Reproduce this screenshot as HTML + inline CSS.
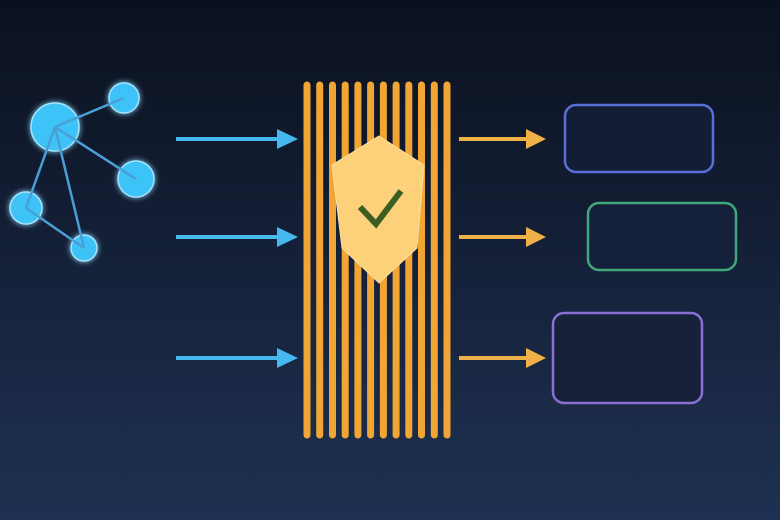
<!DOCTYPE html>
<html><head><style>
html,body{margin:0;padding:0;width:780px;height:520px;overflow:hidden;}
body{background:linear-gradient(#0a111e 0%,#141f36 45%,#1e3152 100%);}
svg{display:block;}
</style></head><body>
<svg width="780" height="520" viewBox="0 0 780 520" xmlns="http://www.w3.org/2000/svg">
<defs>
<filter id="g" x="-50%" y="-50%" width="200%" height="200%"><feGaussianBlur stdDeviation="3" result="b"/><feMerge><feMergeNode in="b"/><feMergeNode in="SourceGraphic"/></feMerge></filter>
</defs>
<g filter="url(#g)" fill="#3ec3f7" stroke="#a8e4fb" stroke-width="1.5">
<circle cx="55" cy="127" r="24"/>
<circle cx="124" cy="98" r="15"/>
<circle cx="136" cy="179" r="18"/>
<circle cx="26" cy="208" r="16"/>
<circle cx="84" cy="248" r="13"/>
</g>
<g stroke="#4a9fd6" stroke-width="2.5" fill="none">
<line x1="55" y1="127" x2="124" y2="98"/>
<line x1="55" y1="127" x2="136" y2="179"/>
<line x1="55" y1="127" x2="26" y2="208"/>
<line x1="55" y1="127" x2="84" y2="248"/>
<line x1="26" y1="208" x2="84" y2="248"/>
</g>
<g fill="#45b8ee" stroke="#45b8ee">
<line x1="176" y1="139" x2="280" y2="139" stroke-width="4"/><polygon points="277,129 298,139 277,149" stroke="none"/>
<line x1="176" y1="237" x2="280" y2="237" stroke-width="4"/><polygon points="277,227 298,237 277,247" stroke="none"/>
<line x1="176" y1="358" x2="280" y2="358" stroke-width="4"/><polygon points="277,348 298,358 277,368" stroke="none"/>
</g>
<g stroke="#f0a535" stroke-width="7" stroke-linecap="round">
<line x1="307" y1="85" x2="307" y2="435"/>
<line x1="319.7" y1="85" x2="319.7" y2="435"/>
<line x1="332.5" y1="85" x2="332.5" y2="435"/>
<line x1="345.2" y1="85" x2="345.2" y2="435"/>
<line x1="357.9" y1="85" x2="357.9" y2="435"/>
<line x1="370.6" y1="85" x2="370.6" y2="435"/>
<line x1="383.4" y1="85" x2="383.4" y2="435"/>
<line x1="396.1" y1="85" x2="396.1" y2="435"/>
<line x1="408.8" y1="85" x2="408.8" y2="435"/>
<line x1="421.5" y1="85" x2="421.5" y2="435"/>
<line x1="434.3" y1="85" x2="434.3" y2="435"/>
<line x1="447" y1="85" x2="447" y2="435"/>
</g>
<polygon points="379,136 424,165 417,248 379,283 342,248 332,165" fill="#fdd07a" stroke="#ffe0a0" stroke-width="1"/>
<polyline points="360,207 376,224 401,191" fill="none" stroke="#3d5e22" stroke-width="6"/>
<g fill="#f0b048" stroke="#f0b048">
<line x1="459" y1="139" x2="530" y2="139" stroke-width="4"/><polygon points="526,129 546,139 526,149" stroke="none"/>
<line x1="459" y1="237" x2="530" y2="237" stroke-width="4"/><polygon points="526,227 546,237 526,247" stroke="none"/>
<line x1="459" y1="358" x2="530" y2="358" stroke-width="4"/><polygon points="526,348 546,358 526,368" stroke="none"/>
</g>
<rect x="565" y="105" width="148" height="67" rx="11" fill="#141d36" stroke="#5a6ed8" stroke-width="2.5"/>
<rect x="588" y="203" width="148" height="67" rx="11" fill="#15213a" stroke="#3fa77a" stroke-width="2.5"/>
<rect x="553" y="313" width="149" height="90" rx="11" fill="#172139" stroke="#8a6fd6" stroke-width="2.5"/>
</svg>
</body></html>
